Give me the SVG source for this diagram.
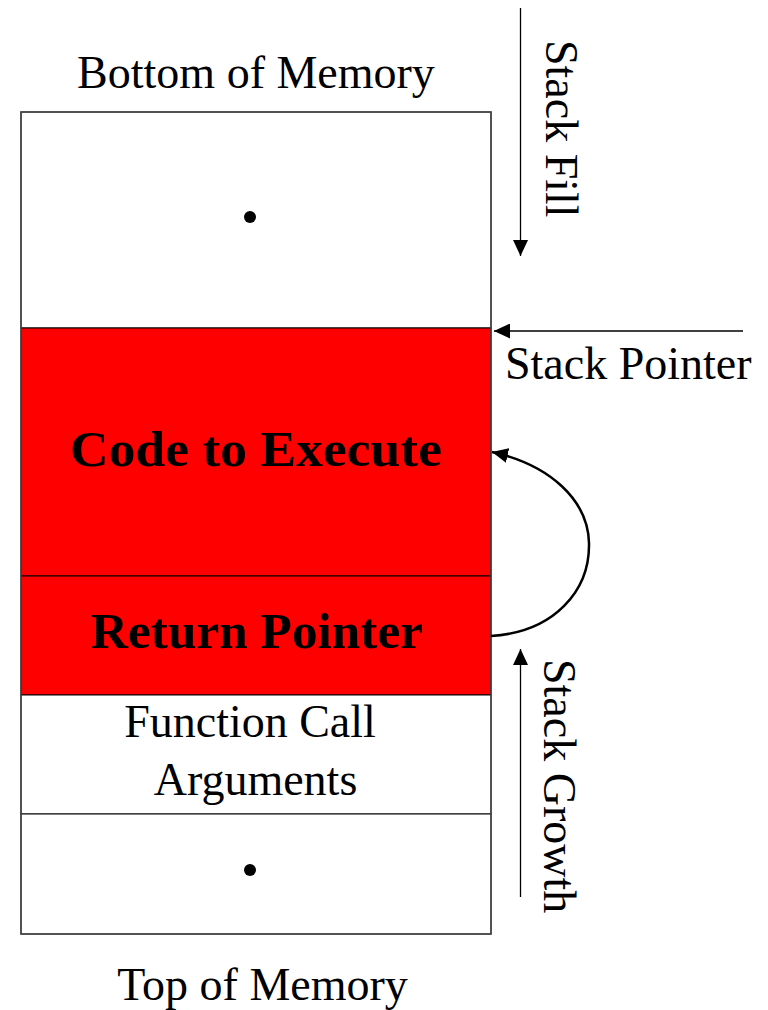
<svg xmlns="http://www.w3.org/2000/svg" width="768" height="1010" viewBox="0 0 768 1010">
<style>
text{font-family:"Liberation Serif","DejaVu Serif",serif;font-size:46px;fill:#000}
.b{font-weight:bold;font-size:50px}
.c{text-anchor:middle}
.cell{stroke:#000;stroke-width:1}
.w{fill:#fff}
.r{fill:#ff0000}
.conn{fill:none;stroke:#000;stroke-width:1.3}
</style>
<defs>
<marker id="ah" viewBox="0 0 16 15" refX="16" refY="7.5" markerWidth="16" markerHeight="15" markerUnits="userSpaceOnUse" orient="auto">
<path d="M0,0 L16,7.5 L0,15 z" fill="#000"/>
</marker>
</defs>
<rect width="768" height="1010" fill="#fff"/>
<g id="label-bottom"><text class="c" x="256" y="88">Bottom of Memory</text></g>
<g id="cell-upper">
<rect class="cell w" x="21" y="112" width="470" height="216"/>
<circle cx="250" cy="217" r="6" fill="#000"/>
</g>
<g id="cell-code">
<rect class="cell r" x="21" y="328" width="470" height="248"/>
<text class="b c" x="256" y="466" textLength="372" lengthAdjust="spacingAndGlyphs">Code to Execute</text>
</g>
<g id="cell-return">
<rect class="cell r" x="21" y="576" width="470" height="119"/>
<text class="b c" x="257" y="648" textLength="332" lengthAdjust="spacingAndGlyphs">Return Pointer</text>
</g>
<g id="cell-args">
<rect class="cell w" x="21" y="695" width="470" height="119"/>
<text class="c" x="250" y="737">Function Call</text>
<text class="c" x="255.5" y="795">Arguments</text>
</g>
<g id="cell-lower">
<rect class="cell w" x="21" y="814" width="470" height="120"/>
<circle cx="250" cy="870" r="6" fill="#000"/>
</g>
<rect x="21" y="112" width="470" height="822" fill="none" stroke="#444" stroke-width="1.5"/>
<g id="label-top"><text class="c" x="262.5" y="1000">Top of Memory</text></g>
<g id="label-fill"><text transform="translate(546,40) rotate(90)" x="0" y="0">Stack Fill</text></g>
<g id="label-sp"><text x="505" y="379">Stack Pointer</text></g>
<g id="label-growth"><text transform="translate(544,659) rotate(90)" x="0" y="0">Stack Growth</text></g>
<g id="connectors">
<line class="conn" x1="520.5" y1="8" x2="520.5" y2="256" marker-end="url(#ah)"/>
<line class="conn" x1="743" y1="331" x2="494" y2="331" marker-end="url(#ah)"/>
<line class="conn" x1="520.5" y1="897" x2="520.5" y2="649" marker-end="url(#ah)"/>
<path class="conn" d="M491,636 C555,632 590,590 589,543 C588,500 550,465 492,452" style="stroke-width:2.5" marker-end="url(#ah)"/>
</g>
</svg>
